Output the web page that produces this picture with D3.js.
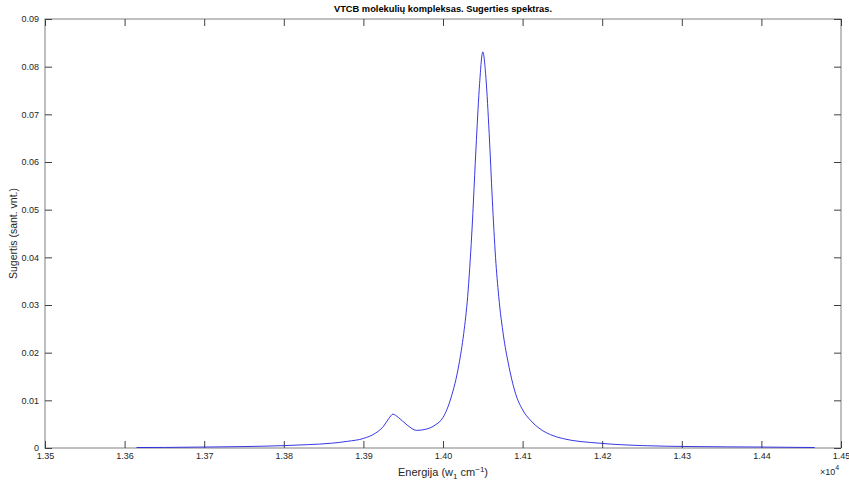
<!DOCTYPE html>
<html>
<head>
<meta charset="utf-8">
<script src="https://cdn.jsdelivr.net/npm/d3@7"></script>
<style>
  body { margin: 0; background: #fff; }
  text { font-family: "Liberation Sans", Arial, sans-serif; }
</style>
</head>
<body>
<svg id="chart"></svg>
<script>
// energy in cm^-1, absorption in arbitrary units
const energy = [13615, 13650, 13700, 13750, 13800, 13830, 13860, 13880, 13900, 13915,
  13925, 13932, 13937, 13944, 13955, 13967, 13980, 13990, 14000, 14010,
  14020, 14026, 14031, 14036, 14042, 14046, 14050, 14054, 14058, 14062,
  14066, 14070, 14076, 14082, 14091, 14100, 14110, 14122, 14135, 14150,
  14197, 14251, 14314, 14400, 14467];
const absorption = [0.0001, 0.00012, 0.0002, 0.0003, 0.0005, 0.0007, 0.0010, 0.0014, 0.0020, 0.0031,
  0.0045, 0.0062, 0.0071, 0.0064, 0.0048, 0.0037, 0.0040, 0.0048, 0.0064, 0.0105,
  0.0175, 0.0240, 0.0318, 0.0445, 0.0647, 0.0765, 0.0831, 0.0775, 0.0660, 0.0520,
  0.0400, 0.0318, 0.0235, 0.0178, 0.0115, 0.0080, 0.0058, 0.0040, 0.0028, 0.0020,
  0.0010, 0.0005, 0.0003, 0.0002, 0.0001];
const xTicks = [13500, 13600, 13700, 13800, 13900, 14000, 14100, 14200, 14300, 14400, 14500];
const yTicks = [0, 0.01, 0.02, 0.03, 0.04, 0.05, 0.06, 0.07, 0.08, 0.09];

const width = 849, height = 481;
const mLeft = 45, mRight = 841, mTop = 19, mBottom = 448;
const tickLen = 7;

const svg = d3.select("#chart").attr("width", width).attr("height", height);

const x = d3.scaleLinear().domain([13500, 14500]).range([mLeft, mRight]);
const y = d3.scaleLinear().domain([0, 0.09]).range([mBottom, mTop]);

// box
svg.append("rect")
  .attr("x", mLeft).attr("y", mTop)
  .attr("width", mRight - mLeft).attr("height", mBottom - mTop)
  .attr("fill", "none").attr("stroke", "#808080").attr("stroke-width", 1);

// bottom axis
svg.append("g")
  .attr("transform", `translate(0,${mBottom})`)
  .call(d3.axisBottom(x).tickValues(xTicks).tickSizeInner(-tickLen).tickSizeOuter(0)
    .tickPadding(5).tickFormat(d => d3.format(".2f")(d / 1e4)))
  .call(g => g.select(".domain").remove())
  .call(g => g.selectAll("line").attr("stroke", "#404040"))
  .call(g => g.selectAll("text").attr("fill", "#262626").attr("font-size", 9));

// top ticks
svg.append("g")
  .attr("transform", `translate(0,${mTop})`)
  .call(d3.axisTop(x).tickValues(xTicks).tickSizeInner(-tickLen).tickSizeOuter(0).tickFormat(""))
  .call(g => g.select(".domain").remove())
  .call(g => g.selectAll("line").attr("stroke", "#404040"));

// left axis
svg.append("g")
  .attr("transform", `translate(${mLeft},0)`)
  .call(d3.axisLeft(y).tickValues(yTicks).tickSizeInner(-tickLen).tickSizeOuter(0)
    .tickPadding(6).tickFormat(d => d === 0 ? "0" : d3.format(".2f")(d)))
  .call(g => g.select(".domain").remove())
  .call(g => g.selectAll("line").attr("stroke", "#404040"))
  .call(g => g.selectAll("text").attr("fill", "#262626").attr("font-size", 9));

// right ticks
svg.append("g")
  .attr("transform", `translate(${mRight},0)`)
  .call(d3.axisRight(y).tickValues(yTicks).tickSizeInner(-tickLen).tickSizeOuter(0).tickFormat(""))
  .call(g => g.select(".domain").remove())
  .call(g => g.selectAll("line").attr("stroke", "#404040"));

// spectrum
const pts = energy.map((e, i) => [e, absorption[i]]);
svg.append("path")
  .datum(pts)
  .attr("fill", "none")
  .attr("stroke", "#2020e0")
  .attr("stroke-width", 0.9)
  .attr("d", d3.line().x(d => x(d[0])).y(d => y(d[1])).curve(d3.curveMonotoneX));

// title
svg.append("text")
  .attr("x", (mLeft + mRight) / 2).attr("y", 12)
  .attr("text-anchor", "middle")
  .attr("font-size", 9.3).attr("font-weight", "bold").attr("fill", "#000")
  .text("VTCB molekulių kompleksas. Sugerties spektras.");

// x label
const xl = svg.append("text")
  .attr("x", (mLeft + mRight) / 2).attr("y", 476)
  .attr("text-anchor", "middle")
  .attr("font-size", 11).attr("fill", "#262626");
xl.append("tspan").text("Energija (w");
xl.append("tspan").attr("font-size", 8).attr("dy", 3).text("1");
xl.append("tspan").attr("dy", -3).text(" cm");
xl.append("tspan").attr("font-size", 8).attr("dy", -4).text("−1");
xl.append("tspan").attr("dy", 4).text(")");

// y label
svg.append("text")
  .attr("transform", `translate(17,${(mTop + mBottom) / 2}) rotate(-90)`)
  .attr("text-anchor", "middle")
  .attr("font-size", 10.5).attr("fill", "#262626")
  .text("Sugertis (sant. vnt.)");

// exponent
const ex = svg.append("text")
  .attr("x", 820).attr("y", 475)
  .attr("font-size", 9).attr("fill", "#262626");
ex.append("tspan").text("×10");
ex.append("tspan").attr("font-size", 7).attr("dy", -5).text("4");
</script>
</body>
</html>
